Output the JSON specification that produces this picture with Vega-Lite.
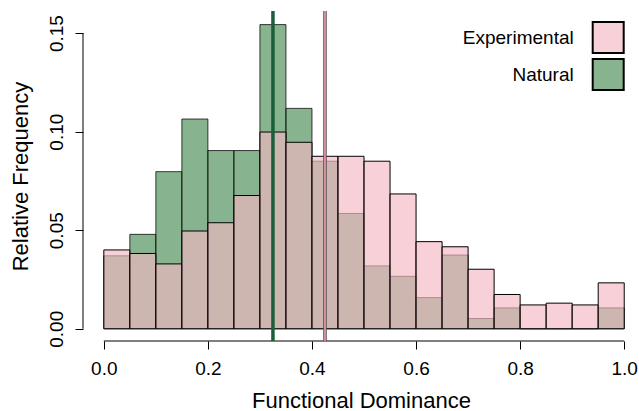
{
  "$schema": "https://vega.github.io/schema/vega-lite/v6.json",
  "width": 556,
  "height": 330,
  "autosize": {"type": "none"},
  "padding": {"left": 83, "top": 11, "right": 0, "bottom": 70},
  "config": {
    "font": "Liberation Sans",
    "view": {"stroke": null},
    "axis": {"grid": false, "domain": false, "tickColor": "black", "labelColor": "black", "titleColor": "black", "titleFontWeight": "normal"}
  },
  "datasets": {
    "hist": [
      {"group": "Experimental", "bin_start": 0.00, "bin_end": 0.05, "freq": 0.0400},
      {"group": "Experimental", "bin_start": 0.05, "bin_end": 0.10, "freq": 0.0382},
      {"group": "Experimental", "bin_start": 0.10, "bin_end": 0.15, "freq": 0.0329},
      {"group": "Experimental", "bin_start": 0.15, "bin_end": 0.20, "freq": 0.0496},
      {"group": "Experimental", "bin_start": 0.20, "bin_end": 0.25, "freq": 0.0538},
      {"group": "Experimental", "bin_start": 0.25, "bin_end": 0.30, "freq": 0.0676},
      {"group": "Experimental", "bin_start": 0.30, "bin_end": 0.35, "freq": 0.0998},
      {"group": "Experimental", "bin_start": 0.35, "bin_end": 0.40, "freq": 0.0946},
      {"group": "Experimental", "bin_start": 0.40, "bin_end": 0.45, "freq": 0.0875},
      {"group": "Experimental", "bin_start": 0.45, "bin_end": 0.50, "freq": 0.0875},
      {"group": "Experimental", "bin_start": 0.50, "bin_end": 0.55, "freq": 0.0850},
      {"group": "Experimental", "bin_start": 0.55, "bin_end": 0.60, "freq": 0.0684},
      {"group": "Experimental", "bin_start": 0.60, "bin_end": 0.65, "freq": 0.0442},
      {"group": "Experimental", "bin_start": 0.65, "bin_end": 0.70, "freq": 0.0416},
      {"group": "Experimental", "bin_start": 0.70, "bin_end": 0.75, "freq": 0.0302},
      {"group": "Experimental", "bin_start": 0.75, "bin_end": 0.80, "freq": 0.0174},
      {"group": "Experimental", "bin_start": 0.80, "bin_end": 0.85, "freq": 0.0121},
      {"group": "Experimental", "bin_start": 0.85, "bin_end": 0.90, "freq": 0.0130},
      {"group": "Experimental", "bin_start": 0.90, "bin_end": 0.95, "freq": 0.0121},
      {"group": "Experimental", "bin_start": 0.95, "bin_end": 1.00, "freq": 0.0233},
      {"group": "Natural", "bin_start": 0.00, "bin_end": 0.05, "freq": 0.0370},
      {"group": "Natural", "bin_start": 0.05, "bin_end": 0.10, "freq": 0.0479},
      {"group": "Natural", "bin_start": 0.10, "bin_end": 0.15, "freq": 0.0797},
      {"group": "Natural", "bin_start": 0.15, "bin_end": 0.20, "freq": 0.1064},
      {"group": "Natural", "bin_start": 0.20, "bin_end": 0.25, "freq": 0.0904},
      {"group": "Natural", "bin_start": 0.25, "bin_end": 0.30, "freq": 0.0904},
      {"group": "Natural", "bin_start": 0.30, "bin_end": 0.35, "freq": 0.1543},
      {"group": "Natural", "bin_start": 0.35, "bin_end": 0.40, "freq": 0.1118},
      {"group": "Natural", "bin_start": 0.40, "bin_end": 0.45, "freq": 0.0850},
      {"group": "Natural", "bin_start": 0.45, "bin_end": 0.50, "freq": 0.0585},
      {"group": "Natural", "bin_start": 0.50, "bin_end": 0.55, "freq": 0.0319},
      {"group": "Natural", "bin_start": 0.55, "bin_end": 0.60, "freq": 0.0266},
      {"group": "Natural", "bin_start": 0.60, "bin_end": 0.65, "freq": 0.0158},
      {"group": "Natural", "bin_start": 0.65, "bin_end": 0.70, "freq": 0.0374},
      {"group": "Natural", "bin_start": 0.70, "bin_end": 0.75, "freq": 0.0052},
      {"group": "Natural", "bin_start": 0.75, "bin_end": 0.80, "freq": 0.0106},
      {"group": "Natural", "bin_start": 0.80, "bin_end": 0.85, "freq": 0.0},
      {"group": "Natural", "bin_start": 0.85, "bin_end": 0.90, "freq": 0.0},
      {"group": "Natural", "bin_start": 0.90, "bin_end": 0.95, "freq": 0.0},
      {"group": "Natural", "bin_start": 0.95, "bin_end": 1.00, "freq": 0.0106}
    ],
    "means": [
      {"group": "Natural", "mean": 0.325},
      {"group": "Experimental", "mean": 0.425}
    ]
  },
  "layer": [
    {
      "data": {"name": "hist"},
      "transform": [{"filter": "datum.group === 'Natural'"}],
      "mark": {"type": "bar", "fillOpacity": 0.65, "stroke": "black", "strokeOpacity": 0.75, "strokeWidth": 1},
      "encoding": {
        "x": {
          "field": "bin_start", "type": "quantitative",
          "scale": {"domain": [-0.04, 1.0284], "nice": false, "zero": false},
          "axis": {"values": [0, 0.2, 0.4, 0.6, 0.8, 1], "format": ".1f", "tickSize": 8, "labelFontSize": 19, "labelPadding": 10, "labelFlush": false, "labelOverlap": false, "title": "Functional Dominance", "titleFontSize": 22, "titlePadding": 12}
        },
        "x2": {"field": "bin_end"},
        "y": {
          "field": "freq", "type": "quantitative",
          "scale": {"domain": [-0.0062, 0.1612], "nice": false, "zero": false},
          "axis": {"values": [0, 0.05, 0.1, 0.15], "format": ".2f", "tickSize": 8, "labelFontSize": 19, "labelAngle": -90, "labelAlign": "center", "labelBaseline": "alphabetic", "labelPadding": 13, "labelOverlap": false, "title": "Relative Frequency", "titleFontSize": 22, "titlePadding": 20, "titleBaseline": "alphabetic"}
        },
        "y2": {"datum": 0},
        "color": {
          "field": "group", "type": "nominal",
          "scale": {"domain": ["Experimental", "Natural"], "range": ["#f4b7c2", "#468c53"]},
          "legend": {
            "title": null, "orient": "none", "legendX": 508.7, "legendY": 10, "direction": "vertical",
            "symbolType": "square", "symbolSize": 961, "symbolStrokeWidth": 2, "symbolStrokeColor": "black",
            "labelFontSize": 19, "labelColor": "black", "labelAlign": "right", "labelBaseline": "middle", "labelOffset": -51, "symbolOffset": 0,
            "rowPadding": -2, "padding": 0, "labelLimit": 300,
            "encode": {"symbols": {"update": {"fillOpacity": {"value": 0.65}, "opacity": {"value": 1}, "strokeOpacity": {"value": 1}, "stroke": {"value": "black"}}}}
          }
        }
      }
    },
    {
      "data": {"name": "hist"},
      "transform": [{"filter": "datum.group === 'Experimental'"}],
      "mark": {"type": "bar", "fillOpacity": 0.65, "stroke": "black", "strokeWidth": 1},
      "encoding": {
        "x": {"field": "bin_start", "type": "quantitative"},
        "x2": {"field": "bin_end"},
        "y": {"field": "freq", "type": "quantitative"},
        "y2": {"datum": 0},
        "color": {"field": "group", "type": "nominal"}
      }
    },
    {
      "data": {"values": [{}]},
      "mark": {"type": "rule", "color": "black", "strokeWidth": 1},
      "encoding": {"x": {"datum": 0}, "x2": {"datum": 1}, "y": {"value": "height"}}
    },
    {
      "data": {"values": [{}]},
      "mark": {"type": "rule", "color": "black", "strokeWidth": 1},
      "encoding": {"x": {"value": 0}, "y": {"datum": 0}, "y2": {"datum": 0.15}}
    },
    {
      "data": {"name": "means"},
      "transform": [{"filter": "datum.group === 'Natural'"}],
      "mark": {"type": "rule", "color": "#1b5e3a", "strokeWidth": 3.5},
      "encoding": {"x": {"field": "mean", "type": "quantitative"}}
    },
    {
      "data": {"name": "means"},
      "transform": [{"filter": "datum.group === 'Experimental'"}],
      "mark": {"type": "rule", "color": "#5a4a4e", "strokeWidth": 3.5},
      "encoding": {"x": {"field": "mean", "type": "quantitative"}}
    },
    {
      "data": {"name": "means"},
      "transform": [{"filter": "datum.group === 'Experimental'"}],
      "mark": {"type": "rule", "color": "#f4a9b8", "strokeWidth": 1.5},
      "encoding": {"x": {"field": "mean", "type": "quantitative"}}
    }
  ]
}
